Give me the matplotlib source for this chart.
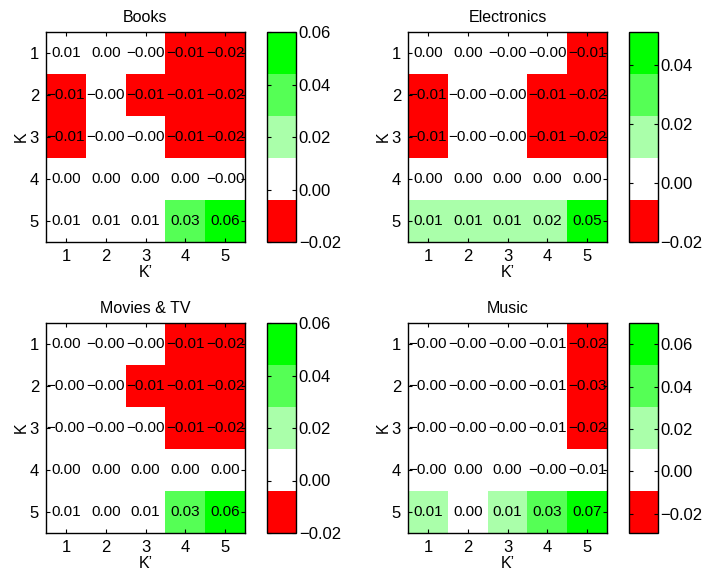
import matplotlib
matplotlib.use('Agg')
import matplotlib.pyplot as plt
import numpy as np
from matplotlib.colors import ListedColormap, Normalize
from matplotlib.ticker import FuncFormatter

plt.rcParams['font.family'] = ['Liberation Sans', 'DejaVu Sans']

# Matrix values per category (rows K = 1..5, columns K' = 1..5)
titles = ['Books', 'Electronics', 'Movies & TV', 'Music']
k_labels = [1, 2, 3, 4, 5]

books = [[0.006, 0.002, -0.001, -0.009, -0.017],
         [-0.008, -0.003, -0.006, -0.010, -0.020],
         [-0.007, -0.002, -0.003, -0.011, -0.019],
         [0.002, 0.001, 0.001, 0.000, -0.002],
         [0.008, 0.010, 0.011, 0.032, 0.060]]

electronics = [[0.002, 0.001, -0.001, -0.003, -0.009],
               [-0.008, -0.003, -0.002, -0.009, -0.018],
               [-0.007, -0.002, -0.002, -0.010, -0.020],
               [0.001, 0.001, 0.000, 0.001, 0.002],
               [0.010, 0.009, 0.011, 0.019, 0.051]]

movies = [[0.001, -0.001, -0.002, -0.009, -0.017],
          [-0.002, -0.003, -0.006, -0.010, -0.019],
          [-0.001, -0.002, -0.003, -0.011, -0.020],
          [0.001, 0.001, 0.001, 0.000, 0.001],
          [0.007, 0.004, 0.009, 0.031, 0.060]]

music = [[-0.002, -0.001, -0.002, -0.006, -0.021],
         [-0.002, -0.002, -0.003, -0.007, -0.029],
         [-0.001, -0.002, -0.003, -0.007, -0.022],
         [-0.001, 0.001, 0.001, -0.002, -0.008],
         [0.012, 0.003, 0.013, 0.033, 0.070]]

matrices = [books, electronics, movies, music]

# 5-level red/white/green colormap
cmap = ListedColormap(['#ff0000', '#ffffff', '#aaffaa', '#55ff55', '#00ff00'])

W, H = 711, 572
fig = plt.figure(figsize=(W / 100, H / 100), dpi=100)

# pixel boxes: (left, top) of heatmap and colorbar left
positions = [(46, 32, 267), (408, 32, 628.5), (46, 323, 267), (408, 323, 628.5)]
hm_w, hm_h, cb_w = 199, 210, 29


def fmt(v):
    s = f'{v:.2f}'
    return s.replace('-', '\u2212')


for title, data, (lx, ty, cx) in zip(titles, matrices, positions):
    data = np.array(data)
    vmin, vmax = data.min(), data.max()
    norm = Normalize(vmin=vmin, vmax=vmax)

    ax = fig.add_axes([lx / W, 1 - (ty + hm_h) / H, hm_w / W, hm_h / H])
    im = ax.imshow(data, cmap=cmap, norm=norm, aspect='auto',
                   extent=(0.5, 5.5, 5.5, 0.5), interpolation='nearest')
    for i in range(5):
        for j in range(5):
            ax.text(j + 1, i + 1, fmt(data[i, j]), ha='center', va='center',
                    fontsize=11, color='black')
    ax.set_xticks(k_labels)
    ax.set_yticks(k_labels)
    ax.tick_params(direction='in', length=3, top=True, right=True,
                   labelsize=12, pad=5)
    for sp in ax.spines.values():
        sp.set_linewidth(1.0)
    ax.set_title(title, fontsize=11.5, pad=7)
    ax.set_xlabel('K\u2019', fontsize=11.5, labelpad=0.5)
    ax.set_ylabel('K', fontsize=11.5, labelpad=1)

    cax = fig.add_axes([cx / W, 1 - (ty + hm_h) / H, cb_w / W, hm_h / H])
    cb = fig.colorbar(im, cax=cax)
    ticks = [t for t in np.round(np.arange(-0.04, 0.09, 0.02), 2)
             if vmin - 1e-9 <= t <= vmax + 1e-9]
    cb.set_ticks(ticks)
    cb.ax.yaxis.set_major_formatter(FuncFormatter(lambda v, p: fmt(v)))
    cb.ax.tick_params(direction='in', length=3, left=True, right=True,
                      labelsize=12, pad=2)
    cb.outline.set_linewidth(1.0)

fig.savefig('out.png', dpi=100)
